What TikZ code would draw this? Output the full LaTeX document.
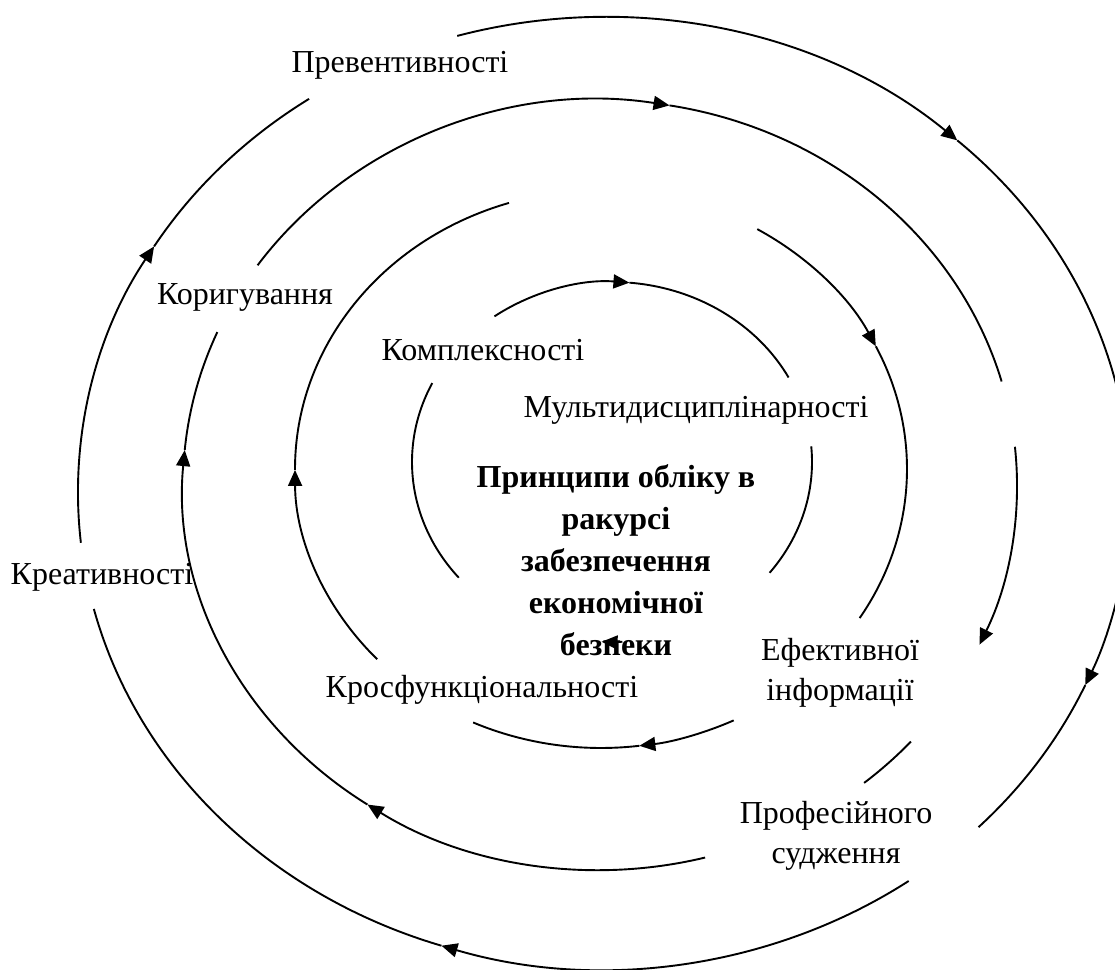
\documentclass[tikz,border=0pt]{standalone}
\usepackage{fontspec}
\setmainfont{Liberation Serif}
\usetikzlibrary{arrows.meta}
\newcommand\earc[6]{%
  \draw[#1] (#2) ++(#5:#3 and #4) arc[start angle=#5, end angle=#6, x radius=#3, y radius=#4];}
\begin{document}
\begin{tikzpicture}[x=1pt,y=1pt,
  ring/.style={line width=1.9pt},
  tip/.style={ring, -{Triangle[length=16pt,width=14pt]}},
  lbl/.style={font=\fontsize{32}{40}\selectfont, inner sep=0pt, align=center},
  ctr/.style={font=\fontsize{32}{42}\selectfont\bfseries, inner sep=0pt, align=center}]
\useasboundingbox (0,0) rectangle (1115,969);
\clip (0,0) rectangle (1115,969);
\fill[white] (0,0) rectangle (1115,969);
\coordinate (c1) at (612,507);
\coordinate (c2) at (601,500);
\coordinate (c3) at (600,484);
\coordinate (c4) at (604,476);
% ring 1
\earc{tip}{c1}{200pt}{180pt}{126}{85}
\earc{ring}{c1}{200pt}{180pt}{85}{28}
\earc{ring}{c1}{200pt}{180pt}{154}{220}
\earc{ring}{c1}{200pt}{180pt}{5}{-38}
% ring 2
\earc{tip}{c2}{306pt}{279pt}{223}{180.2}
\earc{ring}{c2}{306pt}{279pt}{180.2}{107.5}
\earc{tip}{c2}{306pt}{279pt}{59.3}{26.1}
\earc{ring}{c2}{306pt}{279pt}{26.1}{-32.3}
\earc{tip}{c2}{306pt}{279pt}{-64.3}{-82.8}
\earc{ring}{c2}{306pt}{279pt}{-82.8}{-114.7}
% ring 3
\earc{tip}{c3}{417pt}{385pt}{145.2}{80.4}
\earc{ring}{c3}{417pt}{385pt}{80.4}{15.6}
\earc{tip}{c3}{417pt}{385pt}{284.6}{236.1}
\earc{tip}{c3}{417pt}{385pt}{236.1}{174.8}
\earc{ring}{c3}{417pt}{385pt}{174.8}{156.6}
\earc{tip}{c3}{417pt}{385pt}{5.7}{-24.5}
\earc{ring}{c3}{417pt}{385pt}{-41.8}{-50.7}
% ring 4
\earc{tip}{c4}{526pt}{476pt}{106.2}{47.8}
\earc{ring}{c4}{526pt}{476pt}{47.8}{8}
\earc{tip}{c4}{526pt}{476pt}{-8}{-23.8}
\earc{ring}{c4}{526pt}{476pt}{-23.8}{-44.6}
\earc{tip}{c4}{526pt}{476pt}{-54.6}{-108}
\earc{ring}{c4}{526pt}{476pt}{-108}{-165.9}
\earc{tip}{c4}{526pt}{476pt}{186}{148.8}
\earc{ring}{c4}{526pt}{476pt}{148.8}{124.1}
% labels
\node[lbl] (prev) at (400,904) {Превентивності};
\node[lbl] (kor) at (245,672) {Коригування};
\node[lbl] (kompl) at (483,619) {Комплексності};
\node[lbl] (mult) at (696,559) {Мультидисциплінарності};
\node[ctr] (main) at (616,409) {Принципи обліку в\\ракурсі\\забезпечення\\економічної\\безпеки};
\node[lbl] (kreat) at (102,392) {Креативності};
\node[lbl] (kros) at (482,279) {Кросфункціональності};
\node[lbl] (efekt) at (840,296) {Ефективної\\інформації};
\node[lbl] (prof) at (836,133) {Професійного\\судження};
% arrowhead over the centre text
\earc{tip}{c1}{200pt}{180pt}{-87}{-93}
\end{tikzpicture}
\end{document}
